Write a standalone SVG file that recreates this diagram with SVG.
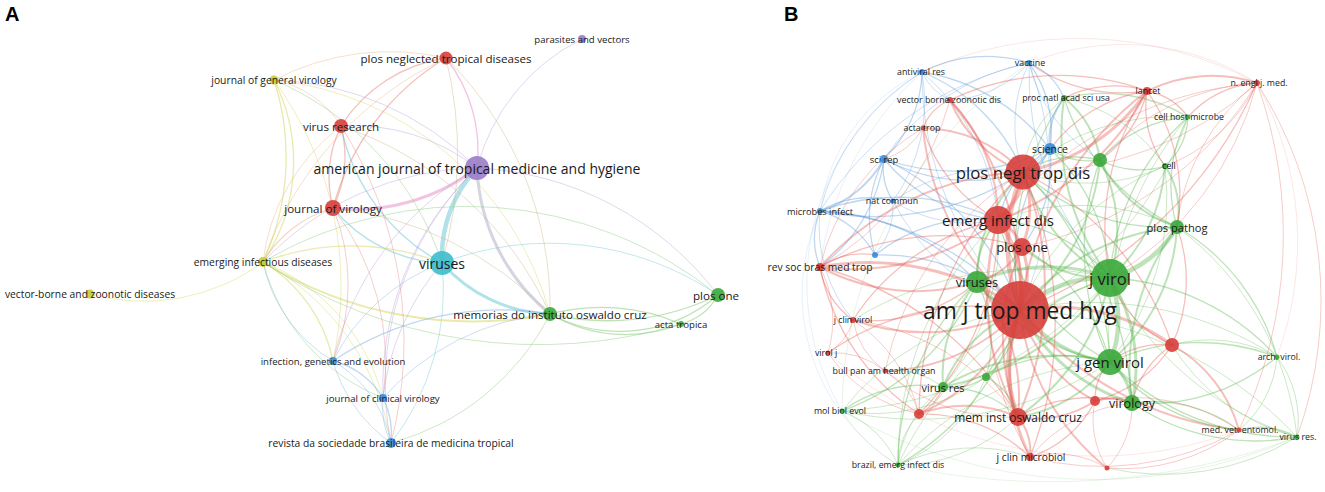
<svg xmlns="http://www.w3.org/2000/svg" width="1325" height="492" viewBox="0 0 1325 492">
<style>
text{font-family:"Open Sans","Noto Sans","Liberation Sans",sans-serif;fill:#1a1a1a;text-anchor:middle;dominant-baseline:central}
.pl{font-family:"Liberation Sans",Arial,sans-serif;font-weight:bold;font-size:20px;fill:#000;text-anchor:start;dominant-baseline:auto}
#connectors path{fill:none;stroke-linecap:round}
#ea path{stroke-opacity:.5}
#eb path{stroke-opacity:.38}
#eb path.f{stroke-opacity:.18}
.w1{stroke-width:.8}.w2{stroke-width:1.3}.w3{stroke-width:2}.w4{stroke-width:3}.w5{stroke-width:4.5}
.ya{stroke:#d4d55a}.pa{stroke:#b49ad6}.ca{stroke:#66c6d4}.ra{stroke:#e8857c}.ga{stroke:#80c870}.ba{stroke:#80b2e2}.oa{stroke:#eab083}.ta{stroke:#c9b27a}.ka{stroke:#e48cc4}.sa{stroke:#a9a9c8}
.r{stroke:#e4574f}.g{stroke:#55b247}.b{stroke:#5896d6}
.nr{fill:#d63e3b;fill-opacity:.9}.ng{fill:#3aa83a;fill-opacity:.9}.nb{fill:#3a8cd4;fill-opacity:.9}.ny{fill:#c9cc30;fill-opacity:.9}.np{fill:#9a7cc6;fill-opacity:.9}.nc{fill:#3cbccc;fill-opacity:.9}
.s14{font-size:14px}.s115{font-size:11.6px}.s10{font-size:10.3px}.s96{font-size:9.6px}.s9{font-size:8.8px}
</style>
<text class="pl" x="5" y="21">A</text>
<text class="pl" x="784" y="21">B</text>
<g id="connectors">
<g id="ea">
<path class="ca w5" d="M442,263A130,130 0 0 1 477,168"/>
<path class="sa w4" d="M550,314A200,200 0 0 1 477,168"/>
<path class="ca w4" d="M550,314A150,150 0 0 1 442,263"/>
<path class="ka w4" d="M477,168A200,200 0 0 1 333,208"/>
<path class="ka w2" d="M446,58A150,150 0 0 1 477,168"/>
<path class="pa w1" d="M341,126A200,200 0 0 1 477,168"/>
<path class="pa w1" d="M477,168A200,200 0 0 1 582,39"/>
<path class="pa w1" d="M477,168A320,320 0 0 1 718,295"/>
<path class="pa w1" d="M274,80A300,300 0 0 1 477,168"/>
<path class="ya w1" d="M274,80A320,320 0 0 1 550,314"/>
<path class="pa w1" d="M263,262A300,300 0 0 1 477,168"/>
<path class="pa w1" d="M391,443A300,300 0 0 1 477,168"/>
<path class="pa w1" d="M383,398A300,300 0 0 1 477,168"/>
<path class="pa w1" d="M333,361A300,300 0 0 1 477,168"/>
<path class="ca w2" d="M442,263A150,150 0 0 1 333,208"/>
<path class="ca w2" d="M442,263A200,200 0 0 1 341,126"/>
<path class="ca w1" d="M442,263A250,250 0 0 1 391,443"/>
<path class="ca w1" d="M442,263A300,300 0 0 1 718,295"/>
<path class="ya w2" d="M263,262A250,250 0 0 1 442,263"/>
<path class="ga w2" d="M718,295A250,250 0 0 1 550,314"/>
<path class="ga w2" d="M718,295A150,150 0 0 1 550,314"/>
<path class="ga w2" d="M550,314A200,200 0 0 1 681,324"/>
<path class="ga w2" d="M681,324A150,150 0 0 1 550,314"/>
<path class="ya w3" d="M550,314A400,400 0 0 1 263,262"/>
<path class="ga w1" d="M550,314A250,250 0 0 1 391,443"/>
<path class="ba w2" d="M333,361A300,300 0 0 1 550,314"/>
<path class="ta w1" d="M446,58A350,350 0 0 1 550,314"/>
<path class="ta w1" d="M341,126A350,350 0 0 1 550,314"/>
<path class="ta w1" d="M333,208A350,350 0 0 1 550,314"/>
<path class="ra w2" d="M341,126A150,150 0 0 1 446,58"/>
<path class="ra w2" d="M333,208A250,250 0 0 1 446,58"/>
<path class="oa w1" d="M274,80A250,250 0 0 1 446,58"/>
<path class="oa w1" d="M263,262A350,350 0 0 1 446,58"/>
<path class="ta w1" d="M446,58A400,400 0 0 1 442,263"/>
<path class="ra w2" d="M341,126A120,120 0 0 1 333,208"/>
<path class="ra w2" d="M333,208A120,120 0 0 1 341,126"/>
<path class="oa w1" d="M263,262A200,200 0 0 1 341,126"/>
<path class="oa w1" d="M274,80A100,100 0 0 1 341,126"/>
<path class="ra w1" d="M341,126A400,400 0 0 1 391,443"/>
<path class="oa w2" d="M263,262A120,120 0 0 1 333,208"/>
<path class="ra w1" d="M333,208A200,200 0 0 1 333,361"/>
<path class="ra w1" d="M333,208A250,250 0 0 1 383,398"/>
<path class="ya w2" d="M274,80A250,250 0 0 1 263,262"/>
<path class="ya w2" d="M274,80A180,180 0 0 1 263,262"/>
<path class="ya w1" d="M274,80A350,350 0 0 1 333,361"/>
<path class="ga w1" d="M274,80A300,300 0 0 1 442,263"/>
<path class="ya w1" d="M263,262A200,200 0 0 1 90,294"/>
<path class="ya w2" d="M263,262A150,150 0 0 1 333,361"/>
<path class="ya w1" d="M263,262A200,200 0 0 1 383,398"/>
<path class="ya w1" d="M263,262A250,250 0 0 1 391,443"/>
<path class="ba w1" d="M333,361A150,150 0 0 1 263,262"/>
<path class="ga w1" d="M383,398A200,200 0 0 1 263,262"/>
<path class="ga w1" d="M263,262A400,400 0 0 1 718,295"/>
<path class="ba w2" d="M333,361A80,80 0 0 1 383,398"/>
<path class="ba w1" d="M333,361A120,120 0 0 1 391,443"/>
<path class="ba w1" d="M391,443A150,150 0 0 1 333,361"/>
<path class="ba w2" d="M383,398A80,80 0 0 1 391,443"/>
<path class="ba w1" d="M391,443A80,80 0 0 1 383,398"/>
<path class="ba w1" d="M383,398A250,250 0 0 1 550,314"/>
<path class="ba w1" d="M333,361A200,200 0 0 1 442,263"/>
<path class="pa w1" d="M383,398A250,250 0 0 1 442,263"/>
<path class="ga w2" d="M718,295A60,60 0 0 1 681,324"/>
<path class="ga w1" d="M681,324A500,500 0 0 1 263,262"/>
</g>
<g id="eb">
<path class="r w5" d="M1020,310A180,180 0 0 1 1023,172"/>
<path class="r w5" d="M998,220A120,120 0 0 1 1020,310"/>
<path class="g w5" d="M1020,310A125,125 0 0 1 1110,278"/>
<path class="g w4" d="M1110,362A135,135 0 0 1 1020,310"/>
<path class="r w4" d="M1022,247A85,85 0 0 1 1020,310"/>
<path class="g w4" d="M1020,310A70,70 0 0 1 977,282"/>
<path class="r w5" d="M1018,417A140,140 0 0 1 1020,310"/>
<path class="g w3" d="M1020,310A230,230 0 0 1 1177,227"/>
<path class="g w4" d="M1132,403A190,190 0 0 1 1020,310"/>
<path class="b w2" d="M1020,310A210,210 0 0 1 1050,149"/>
<path class="g w3" d="M1100,160A220,220 0 0 1 1020,310"/>
<path class="r w4" d="M1020,310A200,200 0 0 1 1172,345"/>
<path class="r w3" d="M1095,401A155,155 0 0 1 1020,310"/>
<path class="r w3" d="M1020,310A190,190 0 0 1 919,414"/>
<path class="g w3" d="M943,387A140,140 0 0 1 1020,310"/>
<path class="g w2" d="M1020,310A100,100 0 0 1 986,377"/>
<path class="r w4" d="M1030,457A190,190 0 0 1 1020,310"/>
<path class="r w4" d="M820,267A265,265 0 0 1 1020,310"/>
<path class="r w3" d="M1020,310A215,215 0 0 1 853,320"/>
<path class="r w2" d="M828,353A255,255 0 0 1 1020,310"/>
<path class="r w3" d="M1020,310A190,190 0 0 1 885,371"/>
<path class="g w1" d="M842,411A265,265 0 0 1 1020,310"/>
<path class="g w2" d="M1020,310A255,255 0 0 1 898,465"/>
<path class="r w3" d="M1107,468A235,235 0 0 1 1020,310"/>
<path class="g w1" d="M1020,310A340,340 0 0 1 1277,357"/>
<path class="r w3" d="M1239,430A325,325 0 0 1 1020,310"/>
<path class="g w1" d="M1020,310A400,400 0 0 1 1297,437"/>
<path class="b w1" d="M1029,63A320,320 0 0 1 1020,310"/>
<path class="b w1" d="M1020,310A335,335 0 0 1 922,72"/>
<path class="r w3" d="M950,100A290,290 0 0 1 1020,310"/>
<path class="r w3" d="M1020,310A270,270 0 0 1 923,128"/>
<path class="b w2" d="M884,159A265,265 0 0 1 1020,310"/>
<path class="b w1" d="M1020,310A220,220 0 0 1 893,201"/>
<path class="b w2" d="M820,211A290,290 0 0 1 1020,310"/>
<path class="r w3" d="M1020,310A330,330 0 0 1 1147,91"/>
<path class="r w2" d="M1257,83A430,430 0 0 1 1020,310"/>
<path class="g w2" d="M1020,310A280,280 0 0 1 1064,98"/>
<path class="g w1" d="M1188,117A330,330 0 0 1 1020,310"/>
<path class="g w1" d="M1020,310A265,265 0 0 1 1165,166"/>
<path class="b w2" d="M875,255A200,200 0 0 1 1020,310"/>
<path class="r w5" d="M1023,172A70,70 0 0 1 998,220"/>
<path class="g w3" d="M1110,278A180,180 0 0 1 1023,172"/>
<path class="r w4" d="M1023,172A100,100 0 0 1 1022,247"/>
<path class="g w3" d="M977,282A150,150 0 0 1 1023,172"/>
<path class="r w3" d="M1023,172A320,320 0 0 1 1018,417"/>
<path class="b w3" d="M1050,149A50,50 0 0 1 1023,172"/>
<path class="g w2" d="M1023,172A100,100 0 0 1 1100,160"/>
<path class="r w4" d="M1147,91A195,195 0 0 1 1023,172"/>
<path class="r w3" d="M1023,172A130,130 0 0 1 950,100"/>
<path class="r w3" d="M923,128A140,140 0 0 1 1023,172"/>
<path class="b w2" d="M1023,172A180,180 0 0 1 884,159"/>
<path class="b w2" d="M922,72A185,185 0 0 1 1023,172"/>
<path class="b w1" d="M1023,172A140,140 0 0 1 1029,63"/>
<path class="r w3" d="M820,267A290,290 0 0 1 1023,172"/>
<path class="b w2" d="M1023,172A270,270 0 0 1 820,211"/>
<path class="b w1" d="M893,201A175,175 0 0 1 1023,172"/>
<path class="g w2" d="M1023,172A275,275 0 0 1 1110,362"/>
<path class="g w2" d="M1177,227A210,210 0 0 1 1023,172"/>
<path class="r w2" d="M1023,172A300,300 0 0 1 1172,345"/>
<path class="r w2" d="M919,414A340,340 0 0 1 1023,172"/>
<path class="r w2" d="M1023,172A370,370 0 0 1 1030,457"/>
<path class="r w1" d="M1257,83A340,340 0 0 1 1023,172"/>
<path class="g w1" d="M1023,172A110,110 0 0 1 1064,98"/>
<path class="g w1" d="M1165,166A185,185 0 0 1 1023,172"/>
<path class="g w1" d="M1023,172A225,225 0 0 1 1188,117"/>
<path class="r w1" d="M885,371A310,310 0 0 1 1023,172"/>
<path class="g w2" d="M1023,172A340,340 0 0 1 1132,403"/>
<path class="r w4" d="M998,220A50,50 0 0 1 1022,247"/>
<path class="g w3" d="M977,282A85,85 0 0 1 998,220"/>
<path class="g w2" d="M998,220A160,160 0 0 1 1110,278"/>
<path class="r w3" d="M1018,417A255,255 0 0 1 998,220"/>
<path class="r w3" d="M998,220A240,240 0 0 1 820,267"/>
<path class="b w2" d="M820,211A230,230 0 0 1 998,220"/>
<path class="b w2" d="M998,220A170,170 0 0 1 884,159"/>
<path class="r w3" d="M1147,91A270,270 0 0 1 998,220"/>
<path class="b w2" d="M998,220A115,115 0 0 1 1050,149"/>
<path class="r w3" d="M950,100A170,170 0 0 1 998,220"/>
<path class="r w2" d="M998,220A155,155 0 0 1 923,128"/>
<path class="g w2" d="M1110,362A230,230 0 0 1 998,220"/>
<path class="r w2" d="M998,220A270,270 0 0 1 919,414"/>
<path class="r w2" d="M853,320A230,230 0 0 1 998,220"/>
<path class="r w1" d="M998,220A370,370 0 0 1 1257,83"/>
<path class="b w2" d="M875,255A165,165 0 0 1 998,220"/>
<path class="b w1" d="M998,220A140,140 0 0 1 893,201"/>
<path class="b w1" d="M922,72A220,220 0 0 1 998,220"/>
<path class="g w1" d="M998,220A230,230 0 0 1 1177,227"/>
<path class="r w1" d="M1030,457A315,315 0 0 1 998,220"/>
<path class="g w1" d="M998,220A225,225 0 0 1 943,387"/>
<path class="g w1" d="M898,465A340,340 0 0 1 998,220"/>
<path class="g w5" d="M1110,278A110,110 0 0 1 1110,362"/>
<path class="g w5" d="M1177,227A110,110 0 0 1 1110,278"/>
<path class="g w4" d="M1110,278A165,165 0 0 1 1132,403"/>
<path class="g w4" d="M977,282A175,175 0 0 1 1110,278"/>
<path class="g w3" d="M1110,278A125,125 0 0 1 1022,247"/>
<path class="g w3" d="M1100,160A155,155 0 0 1 1110,278"/>
<path class="g w3" d="M1110,278A240,240 0 0 1 1064,98"/>
<path class="g w3" d="M1165,166A165,165 0 0 1 1110,278"/>
<path class="g w2" d="M1110,278A235,235 0 0 1 1188,117"/>
<path class="g w2" d="M1050,149A185,185 0 0 1 1110,278"/>
<path class="g w3" d="M1110,278A265,265 0 0 1 943,387"/>
<path class="g w2" d="M986,377A205,205 0 0 1 1110,278"/>
<path class="g w2" d="M1110,278A240,240 0 0 1 1277,357"/>
<path class="g w1" d="M1297,437A315,315 0 0 1 1110,278"/>
<path class="g w1" d="M1110,278A380,380 0 0 1 842,411"/>
<path class="g w1" d="M898,465A350,350 0 0 1 1110,278"/>
<path class="g w3" d="M1110,278A225,225 0 0 1 1018,417"/>
<path class="r w2" d="M1172,345A115,115 0 0 1 1110,278"/>
<path class="r w2" d="M1110,278A245,245 0 0 1 1147,91"/>
<path class="g w1" d="M853,320A340,340 0 0 1 1110,278"/>
<path class="b w1" d="M1110,278A300,300 0 0 1 1029,63"/>
<path class="r w1" d="M1257,83A320,320 0 0 1 1110,278"/>
<path class="g w4" d="M1110,362A60,60 0 0 1 1132,403"/>
<path class="g w3" d="M1177,227A190,190 0 0 1 1110,362"/>
<path class="g w3" d="M1110,362A210,210 0 0 1 977,282"/>
<path class="g w3" d="M943,387A220,220 0 0 1 1110,362"/>
<path class="g w2" d="M1110,362A215,215 0 0 1 1277,357"/>
<path class="g w2" d="M1297,437A260,260 0 0 1 1110,362"/>
<path class="g w1" d="M1110,362A350,350 0 0 1 842,411"/>
<path class="g w1" d="M898,465A305,305 0 0 1 1110,362"/>
<path class="g w3" d="M1110,362A140,140 0 0 1 1018,417"/>
<path class="g w2" d="M986,377A160,160 0 0 1 1110,362"/>
<path class="r w2" d="M1095,401A55,55 0 0 1 1110,362"/>
<path class="r w2" d="M1110,362A85,85 0 0 1 1172,345"/>
<path class="g w2" d="M1239,430A190,190 0 0 1 1110,362"/>
<path class="g w2" d="M1110,362A260,260 0 0 1 1100,160"/>
<path class="g w1" d="M1165,166A265,265 0 0 1 1110,362"/>
<path class="g w1" d="M1110,362A330,330 0 0 1 1188,117"/>
<path class="g w2" d="M1022,247A185,185 0 0 1 1110,362"/>
<path class="g w3" d="M1177,227A130,130 0 0 1 1100,160"/>
<path class="g w3" d="M1165,166A80,80 0 0 1 1177,227"/>
<path class="g w2" d="M1177,227A145,145 0 0 1 1188,117"/>
<path class="g w3" d="M1132,403A235,235 0 0 1 1177,227"/>
<path class="g w2" d="M1177,227A220,220 0 0 1 1064,98"/>
<path class="r w2" d="M1147,91A180,180 0 0 1 1177,227"/>
<path class="r w1" d="M1177,227A210,210 0 0 1 1257,83"/>
<path class="g w3" d="M1064,98A95,95 0 0 1 1100,160"/>
<path class="g w2" d="M1100,160A70,70 0 0 1 1050,149"/>
<path class="g w2" d="M1165,166A85,85 0 0 1 1100,160"/>
<path class="g w2" d="M1100,160A130,130 0 0 1 1188,117"/>
<path class="r w2" d="M1147,91A115,115 0 0 1 1100,160"/>
<path class="b w1" d="M1100,160A155,155 0 0 1 1029,63"/>
<path class="r w3" d="M1147,91A145,145 0 0 1 1257,83"/>
<path class="r w2" d="M1064,98A110,110 0 0 1 1147,91"/>
<path class="r w2" d="M1147,91A65,65 0 0 1 1188,117"/>
<path class="r w2" d="M1050,149A150,150 0 0 1 1147,91"/>
<path class="r w2" d="M1147,91A160,160 0 0 1 1029,63"/>
<path class="r w2" d="M1165,166A100,100 0 0 1 1147,91"/>
<path class="r w2" d="M1188,117A100,100 0 0 1 1257,83"/>
<path class="r w1" d="M1257,83A165,165 0 0 1 1165,166"/>
<path class="r w1" d="M1100,160A225,225 0 0 1 1257,83"/>
<path class="r w1" d="M1257,83A360,360 0 0 1 1022,247"/>
<path class="r w1" d="M1257,83A400,400 0 0 1 1297,437"/>
<path class="r w1" d="M1257,83A450,450 0 0 1 1239,430"/>
<path class="b w3" d="M1050,149A70,70 0 0 1 1064,98"/>
<path class="b w2" d="M1029,63A115,115 0 0 1 1050,149"/>
<path class="b w2" d="M1050,149A215,215 0 0 1 884,159"/>
<path class="b w2" d="M922,72A200,200 0 0 1 1050,149"/>
<path class="b w2" d="M1050,149A135,135 0 0 1 1022,247"/>
<path class="b w2" d="M922,72A140,140 0 0 1 1029,63"/>
<path class="b w2" d="M1029,63A65,65 0 0 1 1064,98"/>
<path class="b w1" d="M884,159A225,225 0 0 1 1029,63"/>
<path class="b w1" d="M1029,63A110,110 0 0 1 950,100"/>
<path class="b w1" d="M820,211A330,330 0 0 1 1029,63"/>
<path class="b w2" d="M922,72A125,125 0 0 1 884,159"/>
<path class="b w1" d="M820,211A225,225 0 0 1 922,72"/>
<path class="b w1" d="M950,100A55,55 0 0 1 922,72"/>
<path class="b w1" d="M922,72A170,170 0 0 1 893,201"/>
<path class="b w3" d="M884,159A110,110 0 0 1 820,211"/>
<path class="b w2" d="M893,201A60,60 0 0 1 884,159"/>
<path class="b w2" d="M884,159A160,160 0 0 1 820,267"/>
<path class="b w2" d="M875,255A125,125 0 0 1 884,159"/>
<path class="r w1" d="M923,128A65,65 0 0 1 884,159"/>
<path class="b w2" d="M820,211A95,95 0 0 1 893,201"/>
<path class="b w2" d="M820,267A75,75 0 0 1 820,211"/>
<path class="b w2" d="M820,211A90,90 0 0 1 875,255"/>
<path class="b w1" d="M853,320A145,145 0 0 1 820,211"/>
<path class="b w2" d="M820,211A225,225 0 0 1 977,282"/>
<path class="b w1" d="M893,201A75,75 0 0 1 875,255"/>
<path class="r w2" d="M820,267A75,75 0 0 1 875,255"/>
<path class="r w2" d="M853,320A80,80 0 0 1 820,267"/>
<path class="r w1" d="M820,267A115,115 0 0 1 828,353"/>
<path class="r w3" d="M977,282A205,205 0 0 1 820,267"/>
<path class="r w2" d="M820,267A330,330 0 0 1 1018,417"/>
<path class="r w2" d="M919,414A230,230 0 0 1 820,267"/>
<path class="r w2" d="M820,267A265,265 0 0 1 1022,247"/>
<path class="r w1" d="M950,100A275,275 0 0 1 820,267"/>
<path class="r w1" d="M820,267A220,220 0 0 1 923,128"/>
<path class="r w1" d="M853,320A55,55 0 0 1 828,353"/>
<path class="r w1" d="M885,371A80,80 0 0 1 853,320"/>
<path class="r w1" d="M853,320A155,155 0 0 1 919,414"/>
<path class="r w2" d="M977,282A165,165 0 0 1 853,320"/>
<path class="r w1" d="M853,320A245,245 0 0 1 1018,417"/>
<path class="r w1" d="M828,353A80,80 0 0 1 885,371"/>
<path class="r w1" d="M919,414A150,150 0 0 1 828,353"/>
<path class="r w1" d="M885,371A70,70 0 0 1 919,414"/>
<path class="r w1" d="M1018,417A185,185 0 0 1 885,371"/>
<path class="g w1" d="M885,371A80,80 0 0 1 943,387"/>
<path class="r w3" d="M919,414A130,130 0 0 1 1018,417"/>
<path class="r w2" d="M943,387A50,50 0 0 1 919,414"/>
<path class="r w2" d="M919,414A155,155 0 0 1 1030,457"/>
<path class="g w1" d="M898,465A75,75 0 0 1 919,414"/>
<path class="g w2" d="M842,411A135,135 0 0 1 943,387"/>
<path class="g w2" d="M977,282A230,230 0 0 1 842,411"/>
<path class="g w1" d="M842,411A100,100 0 0 1 898,465"/>
<path class="g w1" d="M986,377A190,190 0 0 1 842,411"/>
<path class="g w1" d="M898,465A115,115 0 0 1 943,387"/>
<path class="g w1" d="M1018,417A170,170 0 0 1 898,465"/>
<path class="g w2" d="M898,465A250,250 0 0 1 977,282"/>
<path class="g w1" d="M986,377A160,160 0 0 1 898,465"/>
<path class="g w1" d="M898,465A175,175 0 0 1 1030,457"/>
<path class="g w3" d="M943,387A145,145 0 0 1 977,282"/>
<path class="g w2" d="M986,377A60,60 0 0 1 943,387"/>
<path class="g w2" d="M943,387A105,105 0 0 1 1018,417"/>
<path class="g w2" d="M977,282A125,125 0 0 1 986,377"/>
<path class="g w2" d="M986,377A65,65 0 0 1 1018,417"/>
<path class="r w3" d="M1018,417A55,55 0 0 1 1030,457"/>
<path class="r w3" d="M1095,401A105,105 0 0 1 1018,417"/>
<path class="r w2" d="M1018,417A150,150 0 0 1 1132,403"/>
<path class="r w3" d="M977,282A180,180 0 0 1 1018,417"/>
<path class="r w3" d="M1018,417A220,220 0 0 1 1022,247"/>
<path class="r w1" d="M1030,457A100,100 0 0 1 1107,468"/>
<path class="r w2" d="M1095,401A110,110 0 0 1 1030,457"/>
<path class="r w1" d="M1030,457A150,150 0 0 1 1132,403"/>
<path class="r w1" d="M1132,403A90,90 0 0 1 1107,468"/>
<path class="r w1" d="M1107,468A90,90 0 0 1 1095,401"/>
<path class="r w1" d="M1239,430A190,190 0 0 1 1107,468"/>
<path class="r w3" d="M1095,401A50,50 0 0 1 1132,403"/>
<path class="r w2" d="M1172,345A130,130 0 0 1 1095,401"/>
<path class="r w2" d="M1132,403A95,95 0 0 1 1172,345"/>
<path class="r w3" d="M1172,345A140,140 0 0 1 1239,430"/>
<path class="r w2" d="M1177,227A155,155 0 0 1 1172,345"/>
<path class="g w1" d="M1172,345A140,140 0 0 1 1277,357"/>
<path class="g w1" d="M1297,437A205,205 0 0 1 1172,345"/>
<path class="g w2" d="M1239,430A80,80 0 0 1 1297,437"/>
<path class="g w2" d="M1132,403A145,145 0 0 1 1239,430"/>
<path class="g w1" d="M1277,357A105,105 0 0 1 1239,430"/>
<path class="g w1" d="M1277,357A105,105 0 0 1 1297,437"/>
<path class="g w2" d="M1277,357A200,200 0 0 1 1132,403"/>
<path class="g w2" d="M1177,227A215,215 0 0 1 1277,357"/>
<path class="g w2" d="M1297,437A220,220 0 0 1 1132,403"/>
<path class="g w1" d="M1177,227A300,300 0 0 1 1297,437"/>
<path class="g w1" d="M1297,437A255,255 0 0 1 1107,468"/>
<path class="r w1" d="M1095,401A190,190 0 0 1 1239,430"/>
<path class="r w1" d="M1239,430A275,275 0 0 1 1030,457"/>
<path class="r w3" d="M1022,247A75,75 0 0 1 977,282"/>
<path class="r w2" d="M923,128A50,50 0 0 1 950,100"/>
<path class="r w2" d="M950,100A255,255 0 0 1 1147,91"/>
<path class="g w2" d="M1188,117A70,70 0 0 1 1165,166"/>
<path class="g w1" d="M1064,98A160,160 0 0 1 1165,166"/>
<path class="g w2" d="M1064,98A165,165 0 0 1 1188,117"/>
<path class="r w1 f" d="M1029,63A250,250 0 0 1 1257,83"/>
<path class="b w1 f" d="M842,411A250,250 0 0 1 922,72"/>
<path class="b w1 f" d="M898,465A200,200 0 0 1 820,211"/>
<path class="g w1 f" d="M1297,437A700,700 0 0 1 898,465"/>
<path class="b w1 f" d="M820,211A180,180 0 0 1 922,72"/>
<path class="g w1 f" d="M898,465A160,160 0 0 1 842,411"/>
<path class="r w1 f" d="M1257,83A330,330 0 0 1 1277,357"/>
<path class="g w1 f" d="M1297,437A500,500 0 0 1 842,411"/>
<path class="r w1 f" d="M1239,430A400,400 0 0 1 828,353"/>
<path class="b w1 f" d="M820,267A320,320 0 0 1 922,72"/>
<path class="g w1 f" d="M842,411A420,420 0 0 1 1029,63"/>
<path class="r w1 f" d="M922,72A380,380 0 0 1 1257,83"/>
</g>
</g>
<g id="nodes-a">
<g id="a-parasites"><circle class="np" cx="582" cy="39" r="4"/><text class="s96" x="582" y="39">parasites and vectors</text></g>
<g id="a-plosntd"><circle class="nr" cx="446" cy="58" r="6.5"/><text class="s115" x="446" y="58">plos neglected tropical diseases</text></g>
<g id="a-jgv"><circle class="ny" cx="274" cy="80" r="4.5"/><text class="s10" x="274" y="80">journal of general virology</text></g>
<g id="a-vr"><circle class="nr" cx="341" cy="126" r="7"/><text class="s115" x="341" y="126">virus research</text></g>
<g id="a-ajtmh"><circle class="np" cx="477" cy="168" r="12"/><text class="s14" x="477" y="168">american journal of tropical medicine and hygiene</text></g>
<g id="a-jv"><circle class="nr" cx="333" cy="208" r="8"/><text class="s115" x="333" y="208">journal of virology</text></g>
<g id="a-eid"><circle class="ny" cx="263" cy="262" r="5"/><text class="s10" x="263" y="262">emerging infectious diseases</text></g>
<g id="a-viruses"><circle class="nc" cx="442" cy="263" r="12"/><text class="s14" x="442" y="263">viruses</text></g>
<g id="a-vbzd"><circle class="ny" cx="90" cy="294" r="4.5"/><text class="s10" x="90" y="294">vector-borne and zoonotic diseases</text></g>
<g id="a-plosone"><circle class="ng" cx="718" cy="295" r="7"/><text class="s115" x="716" y="295">plos one</text></g>
<g id="a-memorias"><circle class="ng" cx="550" cy="314" r="7"/><text class="s115" x="550" y="314">memorias do instituto oswaldo cruz</text></g>
<g id="a-acta"><circle class="ng" cx="681" cy="324" r="3"/><text class="s96" x="681" y="324">acta tropica</text></g>
<g id="a-ige"><circle class="nb" cx="333" cy="361" r="4"/><text class="s96" x="333" y="361">infection, genetics and evolution</text></g>
<g id="a-jcv"><circle class="nb" cx="383" cy="398" r="4"/><text class="s96" x="383" y="398">journal of clinical virology</text></g>
<g id="a-revista"><circle class="nb" cx="391" cy="443" r="5"/><text class="s10" x="391" y="443">revista da sociedade brasileira de medicina tropical</text></g>
</g>
<g id="nodes-b">
<g id="b-amj"><circle class="nr" cx="1020" cy="310" r="29"/><text x="1020" y="310" style="font-size:22.8px">am j trop med hyg</text></g>
<g id="b-pntd"><circle class="nr" cx="1023" cy="172" r="17.5"/><text x="1023" y="172" style="font-size:16.8px">plos negl trop dis</text></g>
<g id="b-eid"><circle class="nr" cx="998" cy="220" r="14"/><text x="998" y="220" style="font-size:15px">emerg infect dis</text></g>
<g id="b-jvirol"><circle class="ng" cx="1110" cy="278" r="19"/><text x="1110" y="278" style="font-size:16.6px">j virol</text></g>
<g id="b-jgv"><circle class="ng" cx="1110" cy="362" r="13"/><text x="1110" y="362" style="font-size:15px">j gen virol</text></g>
<g id="b-plosone"><circle class="nr" cx="1022" cy="247" r="9"/><text x="1022" y="247" style="font-size:13px">plos one</text></g>
<g id="b-viruses"><circle class="ng" cx="977" cy="282" r="11"/><text x="977" y="282" style="font-size:12.9px">viruses</text></g>
<g id="b-mem"><circle class="nr" cx="1018" cy="417" r="9"/><text x="1018" y="417" style="font-size:11.9px">mem inst oswaldo cruz</text></g>
<g id="b-ppath"><circle class="ng" cx="1177" cy="227" r="7"/><text x="1177" y="227" style="font-size:11.1px">plos pathog</text></g>
<g id="b-virology"><circle class="ng" cx="1132" cy="403" r="8"/><text x="1132" y="403" style="font-size:12.6px">virology</text></g>
<g id="b-science"><circle class="nb" cx="1050" cy="149" r="6"/><text x="1050" y="149" style="font-size:10.5px">science</text></g>
<g id="b-g1"><circle class="ng" cx="1100" cy="160" r="7"/></g>
<g id="b-r1"><circle class="nr" cx="1172" cy="345" r="7"/></g>
<g id="b-r2"><circle class="nr" cx="1095" cy="401" r="5"/></g>
<g id="b-r3"><circle class="nr" cx="919" cy="414" r="5"/></g>
<g id="b-g2"><circle class="ng" cx="986" cy="377" r="4"/></g>
<g id="b-b1"><circle class="nb" cx="875" cy="255" r="3"/></g>
<g id="b-r4"><circle class="nr" cx="1107" cy="468" r="2.5"/></g>
<g id="b-virusres"><circle class="ng" cx="943" cy="387" r="5"/><text x="943" y="387" style="font-size:10.9px">virus res</text></g>
<g id="b-jcm"><circle class="nr" cx="1030" cy="457" r="4"/><text x="1031" y="457" style="font-size:10.2px">j clin microbiol</text></g>
<g id="b-rsb"><circle class="nr" cx="820" cy="267" r="4"/><text x="820" y="267" style="font-size:10.3px">rev soc bras med trop</text></g>
<g id="b-jcv"><circle class="nr" cx="853" cy="320" r="3"/><text class="s9" x="853" y="320">j clin virol</text></g>
<g id="b-virolj"><circle class="nr" cx="828" cy="353" r="2.5"/><text class="s9" x="826" y="353">virol j</text></g>
<g id="b-bull"><circle class="nr" cx="885" cy="371" r="2.5"/><text class="s9" x="884" y="371">bull pan am health organ</text></g>
<g id="b-mbe"><circle class="ng" cx="842" cy="411" r="2.5"/><text class="s9" x="840" y="411">mol biol evol</text></g>
<g id="b-brazil"><circle class="ng" cx="898" cy="465" r="2.5"/><text class="s9" x="898" y="465">brazil, emerg infect dis</text></g>
<g id="b-arch"><circle class="ng" cx="1277" cy="357" r="2.5"/><text class="s9" x="1279" y="357">arch. virol.</text></g>
<g id="b-mve"><circle class="nr" cx="1239" cy="430" r="2.5"/><text class="s9" x="1240" y="430">med. vet. entomol.</text></g>
<g id="b-virusres2"><circle class="ng" cx="1297" cy="437" r="2.5"/><text class="s9" x="1298" y="437">virus res.</text></g>
<g id="b-vaccine"><circle class="nb" cx="1029" cy="63" r="3"/><text class="s9" x="1030" y="63">vaccine</text></g>
<g id="b-antiviral"><circle class="nb" cx="922" cy="72" r="3"/><text class="s9" x="921" y="72">antiviral res</text></g>
<g id="b-vbzd"><circle class="nr" cx="950" cy="100" r="3"/><text class="s9" x="949" y="100">vector borne zoonotic dis</text></g>
<g id="b-actatrop"><circle class="nr" cx="923" cy="128" r="2.5"/><text class="s9" x="922" y="128">acta trop</text></g>
<g id="b-scirep"><circle class="nb" cx="884" cy="159" r="4"/><text style="font-size:9.4px" x="884" y="159">sci rep</text></g>
<g id="b-natcommun"><circle class="nb" cx="893" cy="201" r="2.5"/><text class="s9" x="892" y="201">nat commun</text></g>
<g id="b-microbes"><circle class="nb" cx="820" cy="211" r="3"/><text style="font-size:9.2px" x="820" y="211">microbes infect</text></g>
<g id="b-lancet"><circle class="nr" cx="1147" cy="91" r="4"/><text class="s9" x="1148" y="91">lancet</text></g>
<g id="b-nejm"><circle class="nr" cx="1257" cy="83" r="3"/><text class="s9" x="1259" y="83">n. engl j. med.</text></g>
<g id="b-pnas"><circle class="ng" cx="1064" cy="98" r="3"/><text class="s9" x="1066" y="98">proc natl acad sci usa</text></g>
<g id="b-chm"><circle class="ng" cx="1188" cy="117" r="2.5"/><text class="s9" x="1189" y="117">cell host microbe</text></g>
<g id="b-cell"><circle class="ng" cx="1165" cy="166" r="3"/><text class="s9" x="1169" y="166">cell</text></g>
</g>
</svg>
